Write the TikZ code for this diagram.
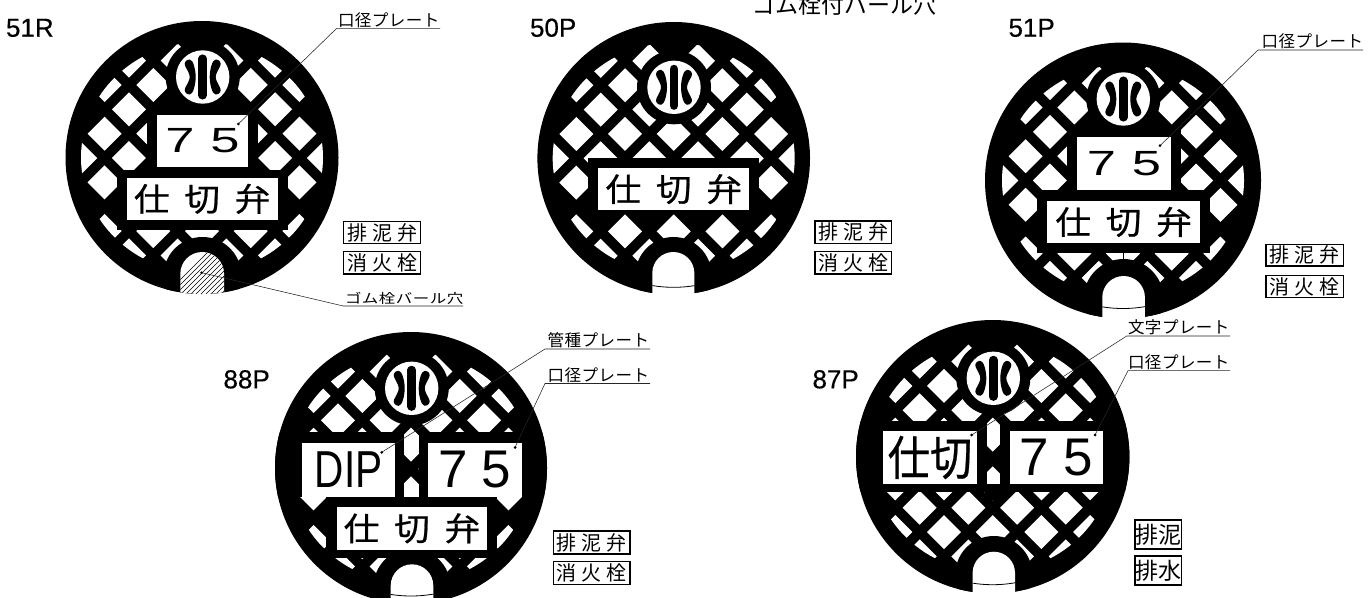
\documentclass[tikz,border=0pt]{standalone}
\usepackage{fontspec}
\usepackage{graphicx}
\setmainfont{Liberation Sans}
\newfontfamily\jp{Noto Sans CJK JP}
\newfontfamily\jpfat[FakeBold=0.6]{Noto Sans CJK JP}
\newfontfamily\jplbl[LetterSpace=3]{Noto Sans CJK JP}
\newfontfamily\codefont[FakeBold=0.4]{Liberation Sans}
\newcommand{\latticecover}[7]{%
  \fill[black] (#1,#2) circle (#3);
  \begin{scope}
    \clip (#1,#2) ellipse (121 and 115.5);
    \foreach \i in {-5,...,5}{\foreach \j in {-4,...,4}{%
      \pgfmathtruncatemacro{\oddsum}{mod(abs(\i+\j),2)}%
      \pgfmathtruncatemacro{\skipit}{(abs(\i)==5)&&(abs(\j)==2)}%
      \ifnum\oddsum=1 \ifnum\skipit=0
        \fill[white] ({#4+\i*24.35+17},{#5+\j*24.35}) -- ++(-17,17) -- ++(-17,-17) -- ++(17,-17) -- cycle;
      \fi\fi}}
  \end{scope}
  \fill[black] (#6,#7) circle (37);
}
\newcommand{\blackdia}[4]{\fill[black] ({#1+#3*24.35+18},{#2+#4*24.35}) -- ++(-18,18) -- ++(-18,-18) -- ++(18,-18) -- cycle;}
\newcommand{\crescent}{(-13,-17.5) .. controls (-9.5,-17.5) and (-7,-7) .. (-7,0) .. controls (-7,7) and (-9.5,17.5) .. (-13,17.5) .. controls (-17,17.5) and (-19,14) .. (-17.5,11) .. controls (-15,6) and (-13,3) .. (-13,0) .. controls (-13,-3) and (-15,-6) .. (-17.5,-11) .. controls (-19,-14) and (-17,-17.5) .. (-13,-17.5) -- cycle}
\newcommand{\emblem}[2]{%
  \begin{scope}[shift={(#1,#2)}]
    \fill[white] (0,0) circle (26.7);
    \draw[black,line width=8.5pt,line cap=round] (0,-18.3) -- (0,18.3);
    \fill[black] \crescent;
    \begin{scope}[xscale=-1]\fill[black] \crescent;\end{scope}
  \end{scope}}
\newcommand{\archpath}[4]{({#1-#2},#4) -- ({#1-#2},{#3+#2}) .. controls ({#1-#2},{#3+0.448*#2}) and ({#1-0.552*#2},#3) .. (#1,#3) .. controls ({#1+0.552*#2},#3) and ({#1+#2},{#3+0.448*#2}) .. ({#1+#2},{#3+#2}) -- ({#1+#2},#4) -- cycle}
\newcommand{\opennotch}[6]{%
  \fill[white] \archpath{#1}{#2}{#3}{#3+60};
  \begin{scope}
    \clip \archpath{#1}{#2}{#3}{#3+60};
    \draw[black,line width=0.8pt] (#4,#5) circle (#6);
  \end{scope}}
\tikzset{
  plate/.style={fill=white,draw=none,inner sep=0pt,text=black,outer sep=0pt},
  tag/.style={draw=black,line width=1.1pt,fill=white,inner sep=0pt,text=black,outer sep=0pt},
  leader/.style={draw=black!85,line width=0.55pt},
  lbl/.style={inner sep=0pt,outer sep=0pt,anchor=base west,text=black},
  code/.style={inner sep=0pt,outer sep=0pt,anchor=base west,text=black,font=\codefont\fontsize{26}{26}\selectfont},
  tip/.style={fill=black}
}
\newcommand{\platetext}{\scalebox{1.05}[0.95]{\jpfat\fontsize{34}{34}\selectfont 仕\hspace{14pt}切\hspace{14pt}弁}}
\newcommand{\wide}{\scalebox{1.5}[1]{\fontsize{35}{35}\selectfont 7\hspace{10.5pt}5}}
\newcommand{\tall}{{\fontsize{53}{53}\selectfont 7\hspace{13.8pt}5}}
\newcommand{\tagtext}[3]{{\jp\fontsize{20}{20}\selectfont #1\hspace{5pt}#2\hspace{5pt}#3}}
\newcommand{\lbltext}[1]{{\jplbl\fontsize{16.5}{16.5}\selectfont #1}}
\begin{document}
\begin{tikzpicture}[x=1pt,y=-1pt]
\useasboundingbox (0,0) rectangle (1372,597);
\fill[white] (0,0) rectangle (1372,597);

% ---------- 51R
\latticecover{202}{157.5}{136.5}{202}{158}{202.7}{77}
\begin{scope}
  \clip (202,157.5) circle (136.5);
  \fill[black] (202.5,276) circle (39);
  \blackdia{202}{158}{-1}{-2}
  \blackdia{202}{158}{1}{-2}
  \blackdia{202}{158}{-3}{2}
  \blackdia{202}{158}{3}{2}
  \fill[black] (147,106) rectangle (258,177);
  \fill[black] (117,170) rectangle (288,230);
\end{scope}
\emblem{202.7}{77}
\begin{scope}
  \clip (202,157.5) circle (136.5);
  \fill[white] \archpath{202.2}{21.9}{252}{300};
  \clip \archpath{202.2}{21.9}{252}{300};
  \foreach \k in {0,5,...,110}{\draw[black,line width=0.4pt] (150+\k,310) -- (210+\k,250);}
\end{scope}
\node[plate,minimum width=91.6pt,minimum height=51.7pt] (a75) at (202.5,140.85) {\wide};
\node[plate,minimum width=151pt,minimum height=42.3pt] (aword) at (202.2,198.85) {\platetext};

% ---------- 50P
\latticecover{673.7}{158.3}{136.3}{673.7}{158.3}{674}{87.3}
\begin{scope}
  \clip (673.7,158.3) circle (136.3);
  \fill[black] (673.5,275) circle (38);
  \blackdia{673.7}{158.3}{-3}{2}
  \blackdia{673.7}{158.3}{-1}{2}
  \blackdia{673.7}{158.3}{1}{2}
  \blackdia{673.7}{158.3}{3}{2}
  \fill[black] (588,158) rectangle (759,212.5);
\end{scope}
\emblem{674}{87.3}
\opennotch{673.3}{21}{252}{673.7}{158.3}{129}
\node[plate,minimum width=151pt,minimum height=41.7pt] (bword) at (673.8,189.15) {\platetext};

% ---------- 51P
\latticecover{1123}{180.5}{138}{1123}{180.5}{1123.3}{99}
\begin{scope}
  \clip (1123,180.5) circle (138);
  \fill[black] (1123.6,299) circle (40);
  \blackdia{1123}{180.5}{-1}{-2}
  \blackdia{1123}{180.5}{1}{-2}
  \blackdia{1123}{180.5}{-3}{2}
  \blackdia{1123}{180.5}{3}{2}
  \fill[black] (1067,127) rectangle (1181,200);
  \fill[black] (1037,190) rectangle (1210,253);
\end{scope}
\draw[black,line width=0.6pt] (1123.6,252) -- (1123.6,260);
\emblem{1123.3}{99}
\opennotch{1123.6}{21.3}{276}{1123}{180.5}{128}
\node[plate,minimum width=93.4pt,minimum height=53.3pt] (c75) at (1124,163.35) {\wide};
\node[plate,minimum width=152.7pt,minimum height=42.6pt] (cword) at (1123.65,222) {\platetext};

% ---------- 88P
\latticecover{411}{468}{136}{411}{469}{411.7}{388.3}
\begin{scope}
  \clip (411,468) circle (136);
  \fill[black] (412,587) circle (38.5);
  \blackdia{411}{469}{-3}{2}
  \blackdia{411}{469}{3}{2}
  \fill[black] (270,432) rectangle (404,497);
  \fill[black] (419,432) rectangle (555,497);
  \fill[black] (326,497) rectangle (497,558);
\end{scope}
\emblem{411.7}{388.3}
\opennotch{412}{21.3}{564.3}{411}{468}{128}
\node[plate,minimum width=92.7pt,minimum height=53.4pt] (ddip) at (348.65,470) {\scalebox{0.78}[1]{\fontsize{52}{52}\selectfont DIP}};
\node[plate,minimum width=93.4pt,minimum height=53.4pt] (d75) at (475,470) {\tall};
\node[plate,minimum width=150.6pt,minimum height=43.3pt] (dword) at (412,528.35) {\platetext};

% ---------- 87P
\latticecover{992.7}{456.7}{136.7}{992.7}{459}{993.3}{378.3}
\begin{scope}
  \clip (992.7,456.7) circle (136.7);
  \fill[black] (993.8,574.5) circle (38.5);
  \fill[black] (850,421) rectangle (986.7,492);
  \fill[black] (1000,421) rectangle (1135,492);
  \fill[black] (985,484) rectangle (1002,500);
\end{scope}
\emblem{993.3}{378.3}
\opennotch{993.8}{21.2}{551.7}{992.7}{456.7}{128}
\node[plate,minimum width=93.4pt,minimum height=53pt] (eword) at (930,457.5) {\scalebox{0.9}[1]{\jpfat\fontsize{47}{47}\selectfont 仕切}};
\node[plate,minimum width=92.7pt,minimum height=53pt] (e75) at (1056.35,457.5) {\tall};

% ---------- series codes
\node[code] (n51r) at (6,36.7) {51R};
\node[code] (n50p) at (530,36.7) {50P};
\node[code] (n51p) at (1008.5,36.7) {51P};
\node[code] (n88p) at (223.5,388.3) {88P};
\node[code] (n87p) at (812.5,388.3) {87P};

% ---------- heading (runs off the top edge, as in the reference)
\node[lbl] (title) at (752,13) {\jp\fontsize{23}{23}\selectfont ゴム栓付バール穴};

% ---------- tags
\node[tag,minimum width=77.4pt,minimum height=21.6pt] (t1a) at (382,232.5) {\tagtext{排}{泥}{弁}};
\node[tag,minimum width=77.4pt,minimum height=22.3pt] (t1b) at (382,262.85) {\tagtext{消}{火}{栓}};
\node[tag,minimum width=76.7pt,minimum height=22.3pt] (t2a) at (853.35,232.15) {\tagtext{排}{泥}{弁}};
\node[tag,minimum width=76.7pt,minimum height=22.3pt] (t2b) at (853.35,262.85) {\tagtext{消}{火}{栓}};
\node[tag,minimum width=77.3pt,minimum height=21.7pt] (t3a) at (1304.65,255.15) {\tagtext{排}{泥}{弁}};
\node[tag,minimum width=77.3pt,minimum height=22pt] (t3b) at (1304.65,286.7) {\tagtext{消}{火}{栓}};
\node[tag,minimum width=76.7pt,minimum height=23pt] (t4a) at (591.65,542.5) {\tagtext{排}{泥}{弁}};
\node[tag,minimum width=76.7pt,minimum height=22.6pt] (t4b) at (591.65,573) {\tagtext{消}{火}{栓}};
\node[tag,minimum width=46.7pt,minimum height=29pt] (t5a) at (1158.35,534.5) {\jp\fontsize{23}{23}\selectfont 排泥};
\node[tag,minimum width=46.7pt,minimum height=29pt] (t5b) at (1158.35,570.5) {\jp\fontsize{23}{23}\selectfont 排水};

% ---------- leader labels
\node[lbl] (l1) at (338,26) {\lbltext{口径プレート}};
\node[lbl] (l2) at (345,303.5) {\scalebox{1}[0.8]{\lbltext{ゴム栓バール穴}}};
\node[lbl] (l3) at (1261.7,47.5) {\lbltext{口径プレート}};
\node[lbl] (l4) at (547.7,346.5) {\lbltext{管種プレート}};
\node[lbl] (l5) at (547.7,381) {\lbltext{口径プレート}};
\node[lbl] (l6) at (1128,333.5) {\lbltext{文字プレート}};
\node[lbl] (l7) at (1128,368) {\lbltext{口径プレート}};

\coordinate (u1s) at (336.7,28.3); \coordinate (u1e) at (440,28.3); \coordinate (d1) at (238.3,124);
\coordinate (u2s) at (343.3,306); \coordinate (u2e) at (463,306); \coordinate (d2) at (201.7,272.7);
\coordinate (u3s) at (1258,50); \coordinate (u3e) at (1363,50); \coordinate (d3) at (1160,145.7);
\coordinate (u4s) at (545,349); \coordinate (u4e) at (650,349); \coordinate (d4) at (381.7,452.3);
\coordinate (u5s) at (545,383.5); \coordinate (u5e) at (650,383.5); \coordinate (d5) at (515,447.5);
\coordinate (u6s) at (1126.7,336); \coordinate (u6e) at (1230,336); \coordinate (d6) at (971.7,435);
\coordinate (u7s) at (1128,370.7); \coordinate (u7e) at (1230,370.7); \coordinate (d7) at (1095,435);
\draw[leader] (u1e) -- (u1s) -- (d1);
\draw[leader] (u2e) -- (u2s) -- (d2);
\draw[leader] (u3e) -- (u3s) -- (d3);
\draw[leader] (u4e) -- (u4s) -- (d4);
\draw[leader] (u5e) -- (u5s) -- (d5);
\draw[leader] (u6e) -- (u6s) -- (d6);
\draw[leader] (u7e) -- (u7s) -- (d7);
\foreach \d in {d1,d2,d3,d4,d5,d6,d7}{\fill[tip] (\d) circle (1.5);}
\end{tikzpicture}
\end{document}
